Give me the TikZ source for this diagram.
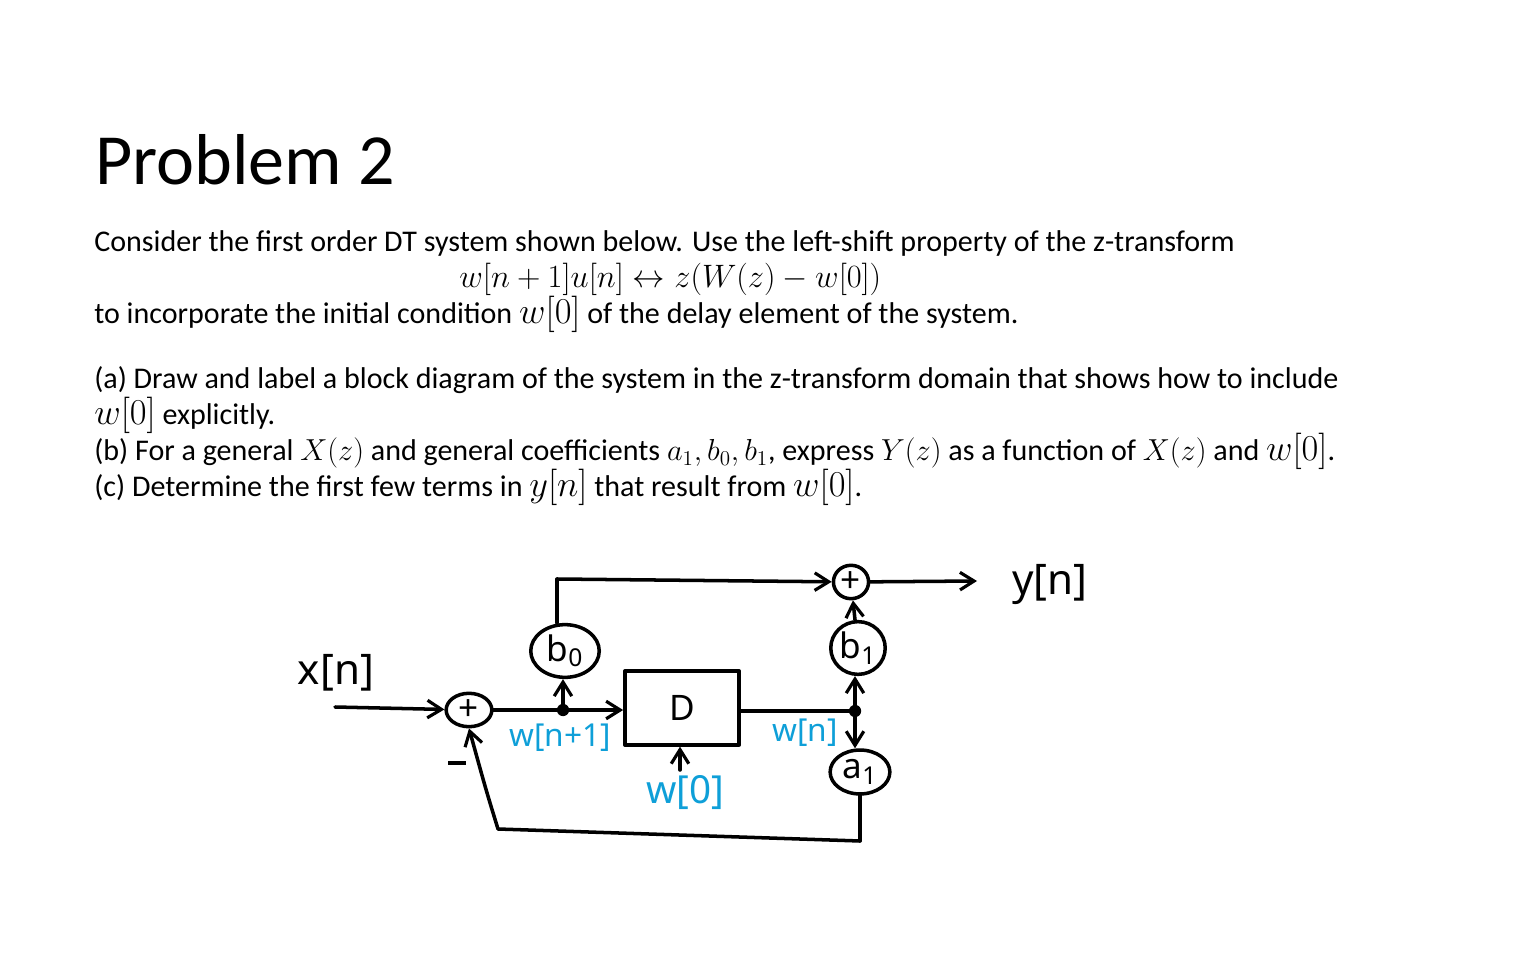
\documentclass[tikz,border=0pt]{standalone}
\usepackage{amsmath}
\usepackage{fontspec}
\usepackage{tikz}
\usetikzlibrary{arrows.meta,shapes.geometric}
\setmainfont{Carlito}
\newfontfamily\handfont{Noto Sans}
\definecolor{labelblue}{HTML}{0E9FD8}
\newcommand{\mth}[1]{{\fontsize{19.3}{20}\selectfont$#1$}}
\tikzset{
  line/.style={line width=2pt,line cap=round,line join=round},
  flow/.style={line,-{Straight Barb[length=8pt,width=10pt,line width=1.8pt]}},
  txt/.style={anchor=base west,inner sep=0pt,font=\fontsize{17.1}{20}\selectfont},
  gain/.style={draw,line,ellipse,inner sep=0pt,font=\handfont\fontsize{20}{22}\selectfont},
  hand/.style={inner sep=0pt,font=\handfont\fontsize{24}{26}\selectfont},
  blue/.style={inner sep=0pt,text=labelblue,font=\handfont\fontsize{18}{20}\selectfont},
  tap/.style={circle,fill=black,inner sep=0pt,minimum size=7pt},
}
\begin{document}
\begin{tikzpicture}[x=0.02cm,y=-0.02cm]
  \useasboundingbox (0,0) rectangle (1528,962);
  \node[txt,font=\fontsize{41}{44}\selectfont] (title) at (95,185) {Problem 2};
  \node[txt] (l1) at (94,252) {Consider the first order DT system shown below. Use the left-shift property of the z-transform};
  \node[txt] (l2) at (459,288) {\scalebox{1.068}{$w[n+1]u[n]\leftrightarrow z(W(z)-w[0])$}};
  \node[txt] (l3) at (94,324) {to incorporate the initial condition \mth{w[0]} of the delay element of the system.};
  \node[txt] (l4) at (94,389) {(a) Draw and label a block diagram of the system in the z-transform domain that shows how to include};
  \node[txt] (l5) at (94,425) {\mth{w[0]} explicitly.};
  \node[txt] (l6) at (94,461) {(b) For a general $X(z)$ and general coefficients $a_1,b_0,b_1$, express $Y(z)$ as a function of $X(z)$ and \mth{w[0]}.};
  \node[txt] (l7) at (94,497) {(c) Determine the first few terms in \mth{y[n]} that result from \mth{w[0]}.};

  \node[gain,minimum width=26pt,minimum height=19pt] (s1) at (469,710) {+};
  \node[gain,minimum width=39pt,minimum height=30pt] (b0) at (565,651) {b\textsubscript{0}};
  \node[gain,minimum width=20pt,minimum height=19pt] (s2) at (851,582) {+};
  \node[gain,minimum width=31pt,minimum height=30pt] (b1) at (858,648) {b\textsubscript{1}};
  \node[gain,minimum width=34pt,minimum height=25pt] (a1) at (860,772) {a\textsubscript{1}};
  \node[draw,line,minimum width=65pt,minimum height=42pt,inner sep=0pt,font=\handfont\fontsize{20}{22}\selectfont] (d1) at (682,708) {D};
  \node[tap] (t1) at (563,710) {};
  \node[tap] (t2) at (855,711) {};

  \coordinate (i1) at (335,707);
  \coordinate (f1) at (977,581);
  \coordinate (c1) at (557,579);
  \coordinate (c2) at (860,841);
  \coordinate (c3) at (498,829);
  \coordinate (i2) at (680,770);

  \draw[flow] (i1) -- (s1);
  \draw[line] (s1) -- (t1);
  \draw[flow] (t1) -- (d1.west |- t1);
  \draw[flow] (t1) -- (t1 |- b0.south);
  \draw[line] (b0.north -| c1) -- (c1);
  \draw[flow] (c1) -- (s2);
  \draw[flow] (s2) -- (f1);
  \draw[line] (d1.east |- t2) -- (t2);
  \draw[flow] (t2) -- (t2 |- b1.south);
  \draw[flow] (t2) -- (t2 |- a1.north);
  \draw[flow] (b1) -- (s2);
  \draw[line] (a1) -- (c2);
  \draw[line] (c2) -- (c3);
  \draw[flow] (c3) .. controls (486,790) .. (s1.south);
  \draw[flow] (i2) -- (i2 |- d1.south);

  \node[hand] (xn) at (336,673) {x[n]};
  \node[hand] (yn) at (1050,585) {y[n]};
  \node[hand] (mi) at (457,763) {\rule{10pt}{2.4pt}};
  \node[blue] (wn1) at (560,738) {w[n+1]};
  \node[blue] (wn) at (805,733) {w[n]};
  \node[blue,font=\handfont\fontsize{22}{24}\selectfont] (w0) at (685,793) {w[0]};
\end{tikzpicture}
\end{document}
